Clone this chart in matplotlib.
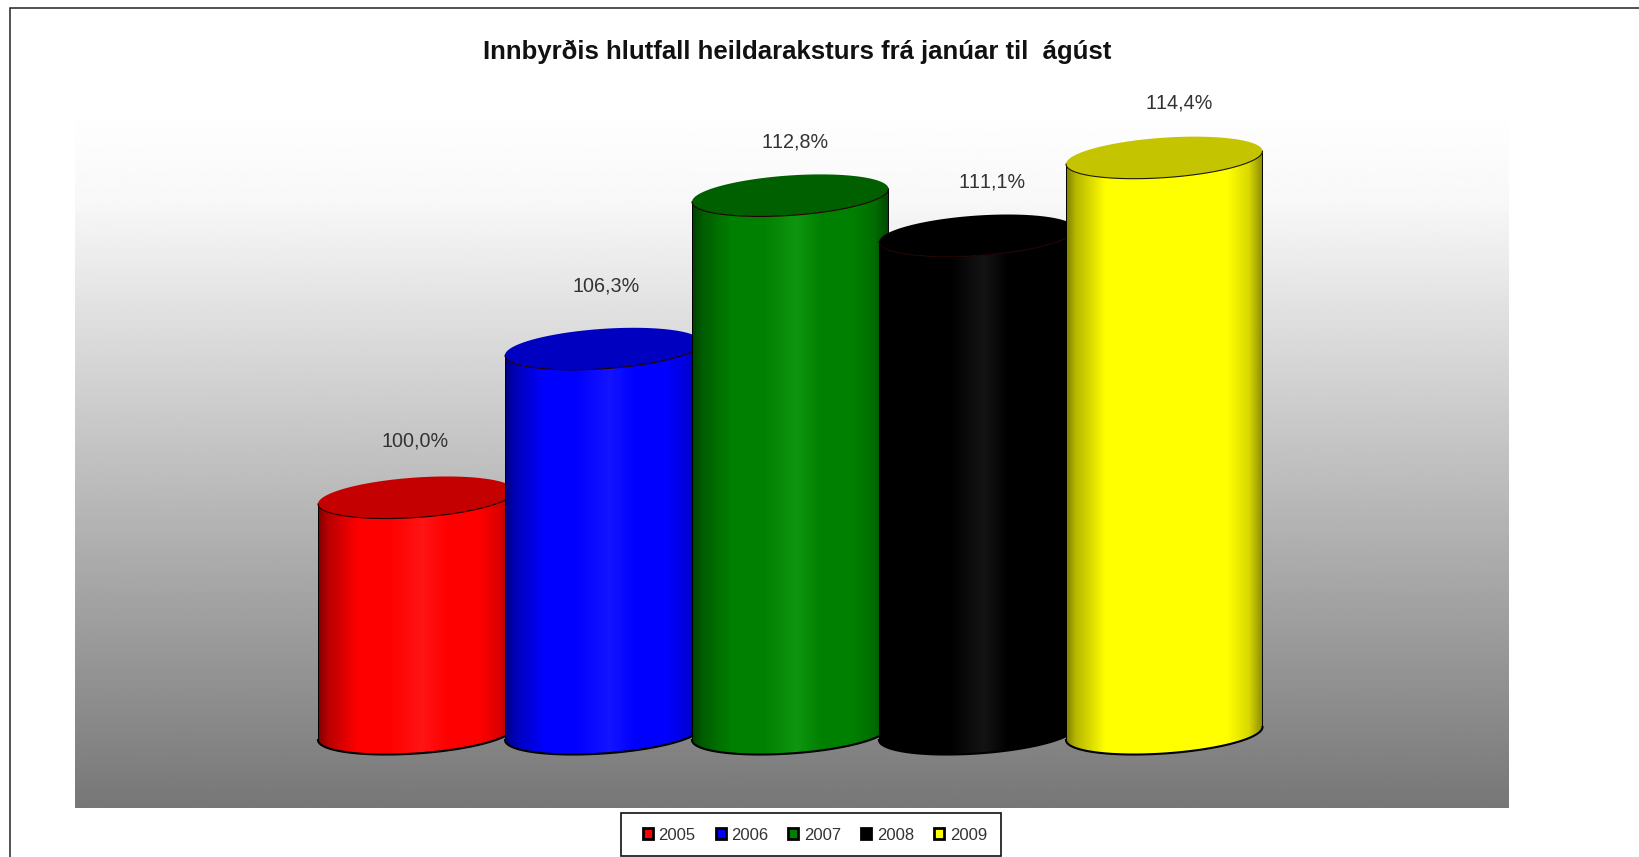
import numpy as np
import matplotlib
matplotlib.use("Agg")
import matplotlib.pyplot as plt
from matplotlib.patches import Polygon, Rectangle

# ---- data ----
title = "Innbyrðis hlutfall heildaraksturs frá janúar til  ágúst"
years = ["2005", "2006", "2007", "2008", "2009"]
values = [100.0, 106.3, 112.8, 111.1, 114.4]
labels = ["100,0%", "106,3%", "112,8%", "111,1%", "114,4%"]
base_value = 90.0

# ---- style ----
body_colors = ["#ff0000", "#0000ff", "#008000", "#000000", "#ffff00"]
high_colors = ["#ff1414", "#1414ff", "#0f960f", "#141414", "#ffff00"]
top_colors = ["#c40000", "#0000c0", "#006000", "#000000", "#c4c400"]
label_dx = [-1, 3, 5, 15, 15]
label_dy = [63, 69, 60, 60, 61]

W, H = 1639, 857
plt.rcParams["text.kerning_factor"] = 6
plt.rcParams["font.family"] = ["Liberation Sans", "DejaVu Sans"]
fig = plt.figure(figsize=(W / 100, H / 100), dpi=100, facecolor="white")

L, R, T, B = 75, 1509, 120, 808
ax = fig.add_axes([L / W, 1 - B / H, (R - L) / W, (B - T) / H])
PX_X = 187.0
PX_Y = 23.6
c0 = 416.25
y100 = 504
xlim = ((L - c0) / PX_X, (R - c0) / PX_X)
ylim = (100 + (y100 - B) / PX_Y, 100 + (y100 - T) / PX_Y)
ax.axis("off")

# background
bg = np.interp(np.linspace(0, 1, 256), [0, 0.116, 1], [0.995, 0.973, 0x77 / 255]).reshape(-1, 1)
ax.imshow(bg, extent=[xlim[0], xlim[1], ylim[0], ylim[1]], origin="upper",
          cmap="gray", vmin=0, vmax=1, aspect="auto", zorder=0)

a = 98.25 / PX_X
tilt = 6.5 / PX_Y
b = 20.0 / PX_Y
t = np.linspace(0, 2 * np.pi, 181)


def ellipse(cx, cy, th):
    return cx + a * np.cos(th), cy + tilt * np.cos(th) + b * np.sin(th)


def hex2rgb(h):
    return np.array(matplotlib.colors.to_rgb(h))


def side_gradient(body, high):
    u = np.linspace(0, 1, 300)
    stops = [0, 0.05, 0.20, 0.36, 0.53, 0.66, 0.82, 0.93, 1]
    body = hex2rgb(body)
    high = hex2rgb(high)
    cols = [body * 0.5, body * 0.72, body, body, high, body, body, body * 0.85, body * 0.55]
    return np.stack([np.interp(u, stops, [c[k] for c in cols]) for k in range(3)], axis=-1)[None, :, :]


for i, v in enumerate(values):
    z = 2 + i
    # v is read at the left edge of the top ellipse; the centre lies one tilt above
    cy_top = v + tilt
    cy_bot = base_value + tilt
    th = np.linspace(np.pi, 0, 91)
    xb = i + a * np.cos(th)
    yb = cy_bot + tilt * np.cos(th) - b * np.sin(th)
    xt = xb[::-1]
    yt = cy_top + tilt * np.cos(th[::-1]) - b * np.sin(th[::-1])
    poly = Polygon(np.column_stack([np.r_[xb, xt], np.r_[yb, yt]]), closed=True,
                   transform=ax.transData, fc="none", ec="none")
    ax.add_patch(poly)
    im = ax.imshow(side_gradient(body_colors[i], high_colors[i]),
                   extent=[i - a, i + a, ylim[0], ylim[1]], aspect="auto", zorder=z)
    im.set_clip_path(poly)
    ax.plot([xt[-1], xb[0]], [yt[-1], yb[0]], color="#000000", lw=0.7, zorder=z + 0.1)
    ax.plot([xt[0], xb[-1]], [yt[0], yb[-1]], color="#000000", lw=0.7, zorder=z + 0.1)
    ax.plot(xb, yb, color="#000000", lw=1.5, zorder=z + 0.1)
    ex, ey = ellipse(i, cy_top, t)
    ax.fill(ex, ey, color=top_colors[i], lw=0, zorder=z + 0.2)
    ax.plot(xt, yt, color="#1a1a00" if i == 4 else "#200000", lw=0.8, zorder=z + 0.3)
    ax.annotate(labels[i], (i, v), xytext=(label_dx[i] * 0.72, label_dy[i] * 0.72),
                textcoords="offset points", ha="center", va="center",
                fontsize=14.2, color="#333333", zorder=20)

ax.set_xlim(xlim)
ax.set_ylim(ylim)

fig.text(797 / W, 1 - 52 / H, title, ha="center", va="center",
         fontsize=18.55, fontweight="bold", color="#111111")

# outer frame
fig.add_artist(Rectangle((9.5 / W, -0.1), 1.2, 1.1 - 7.5 / H,
                         transform=fig.transFigure, fc="none", ec="#222222", lw=1.1))

# legend
fig.add_artist(Rectangle((621 / W, 1 - 856 / H), 380 / W, 43 / H, transform=fig.transFigure,
                         fc="white", ec="#111111", lw=1.2))
handles = [Rectangle((0, 0), 1, 1, fc=c, ec="black", lw=2) for c in body_colors]
leg = fig.legend(handles, years, ncol=5, loc="center", bbox_to_anchor=(815 / W, 1 - 835 / H),
                 fontsize=12, frameon=False,
                 handlelength=0.6, handleheight=0.6, handletextpad=0.35,
                 columnspacing=1.2, labelcolor="#333333", borderaxespad=0)

fig.savefig("out.png", dpi=100, facecolor="white")
